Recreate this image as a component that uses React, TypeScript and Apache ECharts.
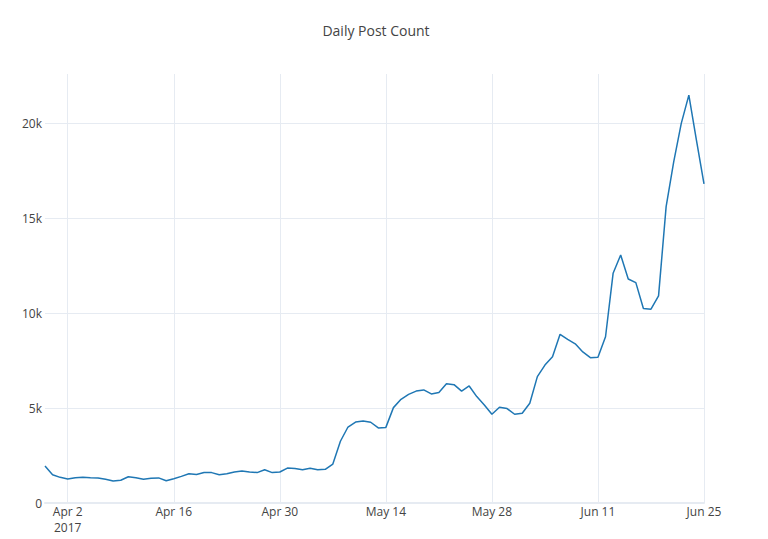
import React, { useEffect, useRef } from "react";
import * as echarts from "echarts";

const startDate = [2017, 2, 30]; // Mar 30, 2017 (month 0-based)
const dailyCounts = [
  1950, 1490, 1350, 1260, 1330, 1350, 1330, 1320, 1250, 1160,
  1200, 1380, 1330, 1250, 1300, 1320, 1170, 1280, 1400, 1540,
  1500, 1600, 1600, 1490, 1540, 1630, 1680, 1630, 1600, 1750,
  1600, 1630, 1840, 1810, 1750, 1830, 1750, 1770, 2050, 3250,
  4000, 4260, 4320, 4250, 3950, 3980, 5020, 5460, 5720, 5890,
  5950, 5740, 5820, 6280, 6230, 5890, 6160, 5600, 5160, 4670,
  5040, 4970, 4670, 4720, 5250, 6650, 7260, 7700, 8880, 8610,
  8380, 7950, 7650, 7670, 8750, 12090, 13050, 11790, 11600, 10240,
  10200, 10900, 15600, 17960, 19980, 21470, 19100, 16800,
];
const tickDates = [
  [2017, 3, 2], [2017, 3, 16], [2017, 3, 30], [2017, 4, 14],
  [2017, 4, 28], [2017, 5, 11], [2017, 5, 25],
];
const yTicks = [0, 5000, 10000, 15000, 20000];
const yMax = 22580;
const monthNames = ["Jan", "Feb", "Mar", "Apr", "May", "Jun", "Jul", "Aug", "Sep", "Oct", "Nov", "Dec"];

const DAY = 86400000;

export default function App() {
  const ref = useRef<HTMLDivElement>(null);
  useEffect(() => {
    if (!ref.current) return;
    const chart = echarts.init(ref.current, undefined, { renderer: "svg" });
    const t0 = Date.UTC(startDate[0], startDate[1], startDate[2]);
    const data = dailyCounts.map((v, i) => [t0 + i * DAY, v]);
    const tickVals = tickDates.map((d) => Date.UTC(d[0], d[1], d[2]));
    const firstTick = tickVals[0];
    const font = "'Open Sans', 'Noto Sans', sans-serif";
    const gridColor = "#e6ebf2";
    chart.setOption({
      animation: false,
      backgroundColor: "#ffffff",
      title: {
        text: "Daily Post Count",
        left: 371,
        textAlign: "center",
        top: 18,
        textStyle: { fontFamily: font, fontSize: 14, fontWeight: "normal", color: "#444" },
      },
      grid: { left: 45, right: 64, top: 74, bottom: 36, containLabel: false },
      xAxis: {
        type: "value",
        min: t0,
        max: t0 + (dailyCounts.length - 1) * DAY,
        axisLine: { show: true, lineStyle: { color: gridColor, width: 2 } },
        axisTick: { show: false, customValues: tickVals },
        splitLine: { show: true, lineStyle: { color: gridColor, width: 1 } },
        axisLabel: {
          customValues: tickVals,
          margin: 0,
          fontFamily: font,
          fontSize: 12,
          color: "#444",
          lineHeight: 16,
          formatter: (val: number) => {
            const d = new Date(val);
            const s = monthNames[d.getUTCMonth()] + " " + d.getUTCDate();
            return val === firstTick ? s + "\n" + d.getUTCFullYear() : s;
          },
        },
      },
      yAxis: {
        type: "value",
        min: 0,
        max: yMax,
        axisLine: { show: false },
        axisTick: { show: false, customValues: yTicks },
        splitLine: { show: true, lineStyle: { color: gridColor, width: 1 } },
        axisLabel: {
          customValues: yTicks,
          margin: 3,
          fontFamily: font,
          fontSize: 12,
          color: "#444",
          formatter: (v: number) => (v === 0 ? "0" : v / 1000 + "k"),
        },
      },
      series: [
        {
          type: "line",
          data,
          showSymbol: false,
          symbol: "none",
          lineStyle: { color: "#1f77b4", width: 1.5 },
          itemStyle: { color: "#1f77b4" },
        },
      ],
    });
    return () => chart.dispose();
  }, []);
  return (
    <div
      ref={ref}
      style={{ position: "fixed", left: 0, top: 0, width: 768, height: 539, background: "#fff" }}
    />
  );
}
